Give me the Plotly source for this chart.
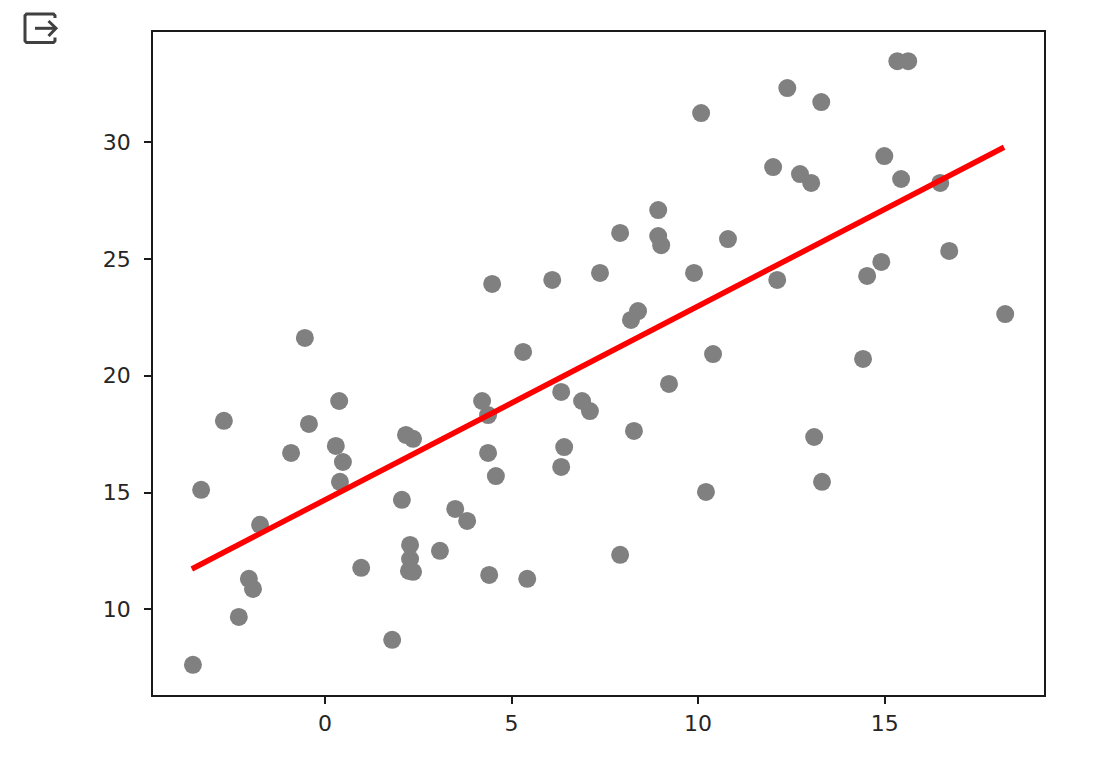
import plotly.graph_objects as go

x_values = [-3.54,-3.32,-2.71,-2.31,-2.04,-1.93,-1.74,-0.91,-0.54,-0.43,0.29,0.38,0.40,0.48,0.97,1.80,2.06,2.17,2.36,2.28,2.28,2.25,2.36,3.08,3.49,3.81,4.21,4.37,4.37,4.40,4.48,4.58,5.31,5.42,6.09,6.33,6.33,6.41,6.89,7.10,7.37,7.91,7.91,8.20,8.39,8.28,8.93,8.93,9.01,9.22,9.89,10.08,10.21,10.40,10.80,12.01,12.12,12.39,12.73,13.03,13.11,13.30,13.32,14.42,14.53,14.91,14.99,15.34,15.44,15.63,16.49,16.73,18.23]
y_values = [7.63,15.12,18.07,9.68,11.31,10.88,13.62,16.70,21.62,17.94,17.00,18.92,15.46,16.31,11.78,8.70,14.69,17.47,17.30,12.76,12.16,11.65,11.61,12.51,14.30,13.79,18.92,18.32,16.70,11.48,23.93,15.71,21.02,11.31,24.10,19.31,16.10,16.95,18.92,18.49,24.40,26.11,12.34,22.39,22.77,17.64,27.09,25.98,25.59,19.65,24.40,31.24,15.03,20.93,25.85,28.93,24.10,32.31,28.63,28.25,17.38,31.71,15.46,20.72,24.27,24.87,29.40,33.46,28.42,33.46,28.25,25.34,22.64]
fit_x = [-3.57, 18.20]
fit_y = [11.73, 29.78]
x_ticks = [0, 5, 10, 15]
y_ticks = [10, 15, 20, 25, 30]

# figure placed in the page with the browser's 8px body margin
W, H = 1080, 744
L, T, R, B = 145, 24, 44, 57

def px(x):
    return (x - 8 - L) / (W - L - R)
def py(y):
    return 1 - (y - 8 - T) / (H - T - B)
def path(points):
    return "M " + " L ".join(f"{px(a):.5f},{py(b):.5f}" for a, b in points)

icon_paths = [
    [(55, 18), (55, 15.5), (53.5, 14), (26.5, 14), (25, 15.5), (25, 41), (26.5, 42.5), (53.5, 42.5), (55, 41), (55, 37.5)],
    [(35, 28.3), (55.5, 28.3)],
    [(48.5, 21), (56, 28.3), (48.5, 36)],
]

fig = go.Figure()
fig.add_trace(go.Scatter(x=x_values, y=y_values, mode="markers",
                         marker=dict(color="#808080", size=18, line=dict(width=0))))
fig.add_trace(go.Scatter(x=fit_x, y=fit_y, mode="lines",
                         line=dict(color="#ff0000", width=5.5)))
axis = dict(showgrid=False, zeroline=False, showline=True, mirror=True,
            linecolor="#1a1a1a", linewidth=1.5, ticks="outside", ticklen=7,
            tickwidth=1.5, tickcolor="#1a1a1a",
            tickfont=dict(family="DejaVu Sans", size=22, color="#262626"))
fig.update_layout(
    width=W, height=H, showlegend=False,
    margin=dict(l=L, r=R, t=T, b=B),
    paper_bgcolor="white", plot_bgcolor="white",
    xaxis=dict(axis, range=[-4.61, 19.27], tickmode="array", tickvals=x_ticks,
               ticktext=[str(v) for v in x_ticks], ticklabelstandoff=1),
    yaxis=dict(axis, range=[6.34, 34.71], tickmode="array", tickvals=y_ticks,
               ticktext=[str(v) for v in y_ticks], ticklabelstandoff=9),
    shapes=[dict(type="path", xref="paper", yref="paper", path=path(p),
                 line=dict(color="#404040", width=3)) for p in icon_paths],
)
fig.write_html("out.html", config=dict(displayModeBar=False))
